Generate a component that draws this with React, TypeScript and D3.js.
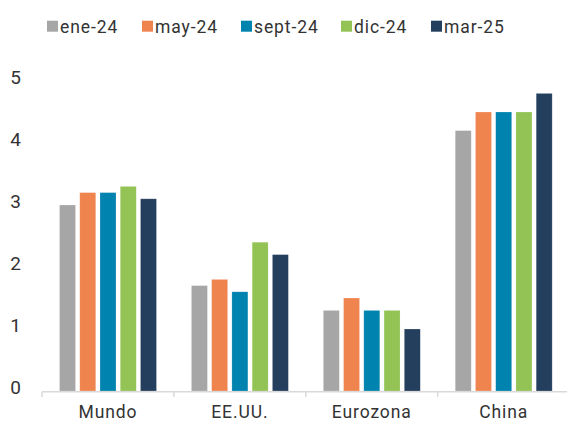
import React from "react";
import * as d3 from "d3";

const categories = ["Mundo", "EE.UU.", "Eurozona", "China"];
const series = ["ene-24", "may-24", "sept-24", "dic-24", "mar-25"];
const colors = ["#a6a6a6", "#f0844f", "#0083ae", "#93c255", "#243f5e"];
const values: number[][] = [
  // per category, per series
  [3.0, 3.2, 3.2, 3.3, 3.1],
  [1.7, 1.8, 1.6, 2.4, 2.2],
  [1.3, 1.5, 1.3, 1.3, 1.0],
  [4.2, 4.5, 4.5, 4.5, 4.8],
];
const yTicks = [0, 1, 2, 3, 4, 5];
const legendX = [47, 142, 241, 341, 431];

const W = 567;
const H = 422;
const FONT = "Roboto, 'DejaVu Sans', sans-serif";

export default function App() {
  const x0 = d3.scaleBand<string>().domain(categories).range([42, 42 + 4 * 131.9]).padding(0);
  const x1 = d3.scaleBand<string>().domain(series).range([15.4, 116.6]).paddingInner(0.21).paddingOuter(0.105);
  const y = d3.scaleLinear().domain([0, 5]).range([391, 81]);

  return (
    <svg width={W} height={H} style={{ position: "absolute", left: 0, top: 0 }} fontFamily={FONT}>
      <rect x={0} y={0} width={W} height={H} fill="#ffffff" />
      {/* legend */}
      {series.map((s, i) => (
        <g key={s} transform={`translate(${legendX[i]},0)`}>
          <rect x={0} y={20.7} width={11} height={11} fill={colors[i]} />
          <text x={13} y={32.5} fontSize={17.5} letterSpacing={0.9} fill="#333333">{s}</text>
        </g>
      ))}
      {/* y tick labels */}
      {yTicks.map((t) => (
        <text key={t} x={21} y={y(t) + 2.5} textAnchor="end" fontSize={19} fill="#333333">
          {t}
        </text>
      ))}
      {/* bars */}
      {categories.map((c, ci) => (
        <g key={c} transform={`translate(${x0(c)},0)`}>
          {series.map((s, si) => (
            <rect
              key={s}
              x={x1(s)}
              y={y(values[ci][si])}
              width={x1.bandwidth()}
              height={y(0) - y(values[ci][si])}
              fill={colors[si]}
              stroke="#ffffff"
              strokeOpacity={0.35}
              strokeWidth={0.6}
            />
          ))}
        </g>
      ))}
      {/* x axis */}
      <line x1={42} x2={W} y1={391.7} y2={391.7} stroke="#d9d9d9" strokeWidth={1.5} />
      {categories.map((c) => (
        <line key={c} x1={x0(c)} x2={x0(c)} y1={391.7} y2={397} stroke="#d9d9d9" strokeWidth={1.5} />
      ))}
      {categories.map((c) => (
        <text key={c} x={(x0(c) as number) + x0.bandwidth() / 2} y={418} textAnchor="middle" fontSize={17.5} letterSpacing={0.9} fill="#333333">
          {c}
        </text>
      ))}
    </svg>
  );
}
